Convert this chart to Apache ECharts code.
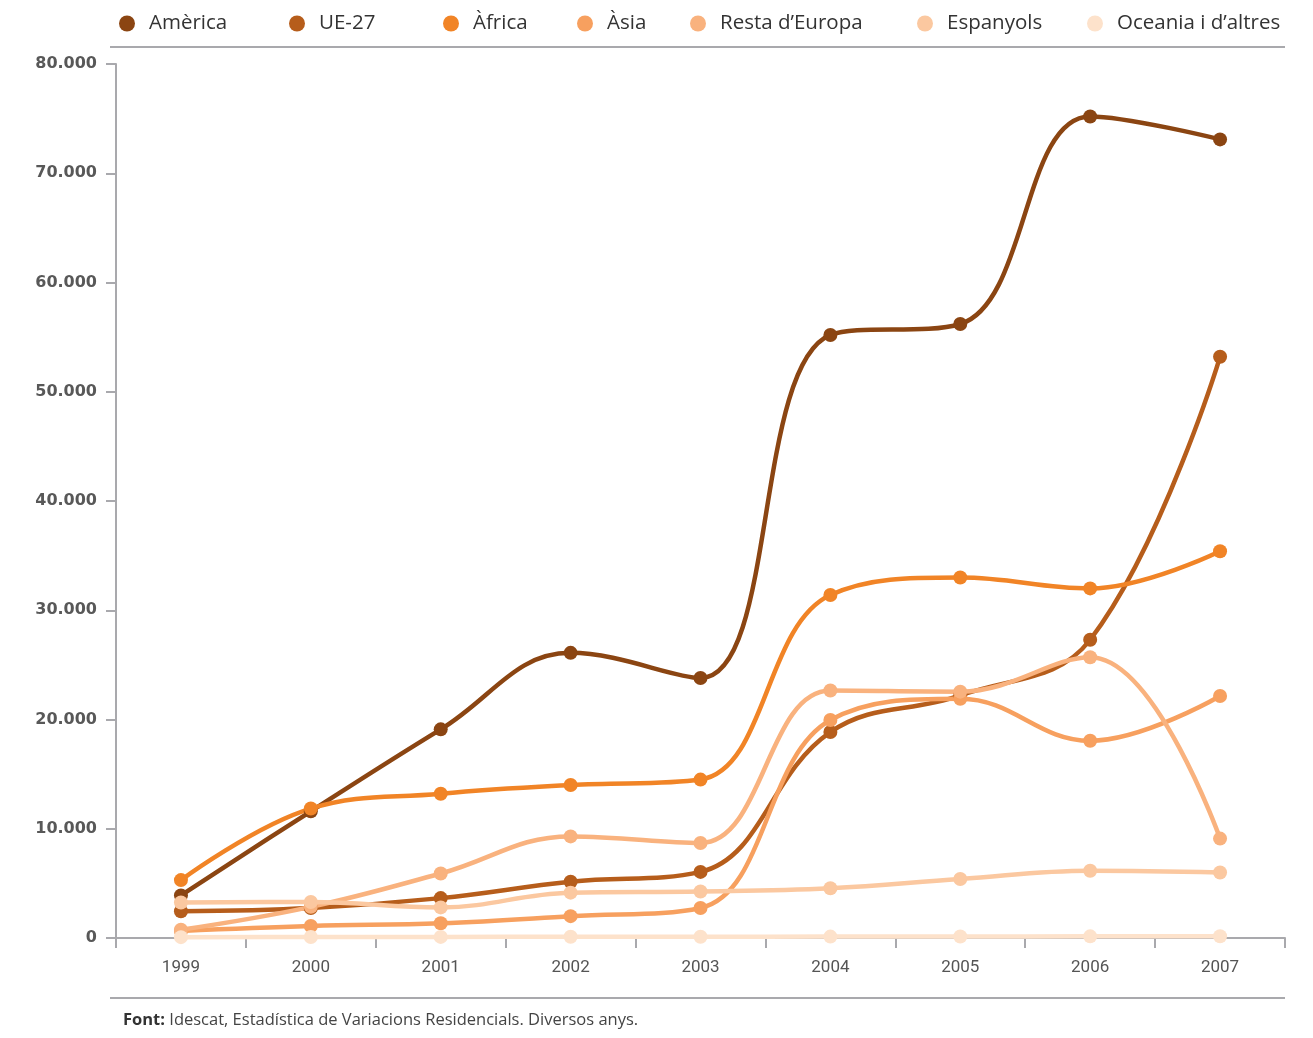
<!DOCTYPE html>
<html>
<head>
<meta charset="utf-8">
<script src="https://cdn.jsdelivr.net/npm/echarts@6/dist/echarts.min.js"></script>
<style>html,body{margin:0;padding:0;background:#fff;}#c{width:1313px;height:1038px;}</style>
</head>
<body>
<div id="c"></div>
<script>
const years = ['1999','2000','2001','2002','2003','2004','2005','2006','2007'];
const america   = [3900, 11600, 19100, 26100, 23800, 55200, 56200, 75200, 73100];
const ue27      = [2450, 2750, 3650, 5150, 6050, 18850, 22200, 27300, 53200];
const africa    = [5300, 11850, 13200, 14000, 14500, 31400, 33000, 32000, 35400];
const asia      = [650, 1100, 1350, 2000, 2750, 19950, 21900, 18050, 22150];
const resta     = [750, 2850, 5900, 9300, 8700, 22650, 22550, 25700, 9100];
const espanyols = [3250, 3300, 2800, 4150, 4250, 4550, 5400, 6150, 6000];
const oceania   = [80, 90, 100, 110, 110, 130, 140, 150, 160];

const names  = ['Amèrica','UE-27','Àfrica','Àsia','Resta d\u2019Europa','Espanyols','Oceania i d\u2019altres'];
const values = [america, ue27, africa, asia, resta, espanyols, oceania];
const colors = ['#8B4512','#B65D1B','#F18426','#F7A05F','#F9B27E','#FBC8A0','#FDE2CB'];
const legendCenters = [127, 297, 451, 585, 698, 925, 1095];

const chart = echarts.init(document.getElementById('c'));
const legends = names.map((n, i) => ({
  data: [n],
  left: legendCenters[i] - 13,
  top: 8,
  icon: 'circle',
  itemWidth: 34,
  itemHeight: 16,
  textStyle: { fontFamily: 'Open Sans', fontSize: 20.5, color: '#333' },
  selectedMode: false
}));

chart.setOption({
  animation: false,
  color: colors,
  legend: legends,
  grid: { left: 116, right: 28, top: 64, bottom: 100 },
  xAxis: {
    type: 'category',
    data: years,
    boundaryGap: true,
    axisLine: { lineStyle: { color: '#a9a9ad', width: 2 } },
    axisTick: { show: true, length: 10, lineStyle: { color: '#a9a9ad', width: 2 } },
    axisLabel: { margin: 21, fontFamily: 'Roboto', fontSize: 17, color: '#555' }
  },
  yAxis: {
    type: 'value',
    min: 0, max: 80000, interval: 10000,
    splitLine: { show: false },
    axisLine: { show: true, lineStyle: { color: '#a9a9ad', width: 2 } },
    axisTick: { show: true, length: 10, lineStyle: { color: '#a9a9ad', width: 2 } },
    axisLabel: {
      margin: 19,
      fontFamily: 'DejaVu Sans', fontWeight: 'bold', fontSize: 16, color: '#585858',
      formatter: v => v === 0 ? '0' : String(v).replace(/\B(?=(\d{3})+(?!\d))/g, '.')
    }
  },
  series: names.map((n, i) => ({
    name: n,
    type: 'line',
    data: values[i],
    smooth: 0.4,
    symbol: 'circle',
    symbolSize: 14,
    lineStyle: { width: 4.5, color: colors[i] },
    itemStyle: { color: colors[i] }
  })),
  graphic: [
    { type: 'line', shape: { x1: 110, y1: 47, x2: 1285, y2: 47 }, style: { stroke: '#a9a9ad', lineWidth: 2 } },
    { type: 'line', shape: { x1: 110, y1: 998, x2: 1285, y2: 998 }, style: { stroke: '#a9a9ad', lineWidth: 2 } },
    { type: 'text', left: 123, top: 1012,
      style: {
        text: '{b|Font:} Idescat, Estadística de Variacions Residencials. Diversos anys.',
        fontFamily: 'Open Sans', fontSize: 16.5, fill: '#444',
        rich: { b: { fontFamily: 'Open Sans', fontSize: 16.5, fontWeight: 'bold', fill: '#333' } }
      } }
  ]
});
</script>
</body>
</html>
